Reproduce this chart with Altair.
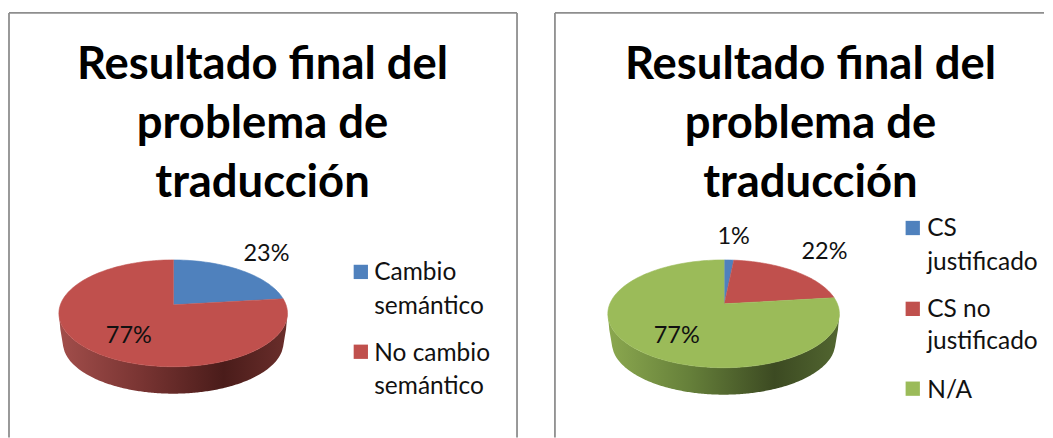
import math
import altair as alt
import pandas as pd

TITLE = ["Resultado final del", "problema de", "traducción"]

L_SHARES = [23, 77]
L_COLORS = ["#4F81BD", "#C0504D"]
L_PCT = ["23%", "77%"]
L_LEGEND = [["Cambio", "semántico"], ["No cambio", "semántico"]]

R_SHARES = [1.5, 21.5, 77]
R_COLORS = ["#4F81BD", "#C0504D", "#9BBB59"]
R_PCT = ["1%", "22%", "77%"]
R_LEGEND = [["CS", "justificado"], ["CS no", "justificado"], ["N/A"]]

FONT = "Lato"
H = 430
ORIGIN_Y = 8


def ellipse_point(theta, g):
    dx, dy = math.sin(theta), -g["k"] * math.cos(theta)
    ox, oy = g["ax"] - g["cx"], g["ay"] - g["cy"]
    a = (dx / g["rx"]) ** 2 + (dy / g["ry"]) ** 2
    b = 2 * (ox * dx / g["rx"] ** 2 + oy * dy / g["ry"] ** 2)
    c = (ox / g["rx"]) ** 2 + (oy / g["ry"]) ** 2 - 1
    t = (-b + math.sqrt(b * b - 4 * a * c)) / (2 * a)
    return g["ax"] + t * dx, g["ay"] + t * dy


def slices(shares, g):
    rows, start = [], 0.0
    for i, s in enumerate(shares):
        rows.append(dict(s=i, o=0, x=g["ax"], y=g["ay"]))
        n = max(4, int(s * 2))
        for j in range(n + 1):
            th = 2 * math.pi * (start + s * j / n) / 100
            x, y = ellipse_point(th, g)
            rows.append(dict(s=i, o=j + 1, x=x, y=y))
        start += s
    return pd.DataFrame(rows)


def wall(g):
    rows = []
    n = 160
    for i in range(n + 1):
        u = -1 + 2 * i / n
        x = u * g["rx"]
        y = g["cy"] + g["ry"] * math.sqrt(max(0, 1 - u * u))
        if abs(x) <= g["rx2"]:
            y2 = g["cb"] + g["ry2"] * math.sqrt(1 - (x / g["rx2"]) ** 2)
        else:
            f = (g["rx"] - abs(x)) / (g["rx"] - g["rx2"])
            y2 = y + f * (g["cb"] - y)
        rows.append(dict(x=g["cx"] + x, y=y, y2=y2))
    return pd.DataFrame(rows)


def panel(x0, width, frame, tx, g, shares, colors, wall_stops, pct, pct_pos,
          legend, sq_x, sq_y, text_x, text_y):
    xs = alt.Scale(domain=[x0, x0 + width], range=[0, width])
    ys = alt.Scale(domain=[ORIGIN_Y, ORIGIN_Y + H], range=[0, H])
    X = lambda f="x": alt.X(f"{f}:Q", scale=xs, axis=None)
    Y = lambda f="y": alt.Y(f"{f}:Q", scale=ys, axis=None)
    layers = []

    # frame, open at the bottom
    top_l, top_r, sides, ft, fb = frame
    edge = dict(color="#8E8E8E", strokeWidth=1.8)
    layers.append(alt.Chart(pd.DataFrame([dict(x=top_l, x2=top_r, y=ft)])).mark_rule(**edge)
                  .encode(x=X(), x2="x2:Q", y=Y()))
    layers.append(alt.Chart(pd.DataFrame([dict(x=s, y=ft, y2=fb) for s in sides]))
                  .mark_rule(**edge).encode(x=X(), y=Y(), y2="y2:Q"))

    # title
    title_df = pd.DataFrame([dict(t=t, x=tx, y=y) for t, y in zip(TITLE, [65, 123.5, 182.5])])
    layers.append(alt.Chart(title_df).mark_text(font=FONT, fontWeight="bold", fontSize=45.5,
                                                color="#000000", baseline="middle", align="center")
                  .encode(x=X(), y=Y(), text="t:N"))

    # side wall of the pie
    grad = alt.LinearGradient(gradient="linear", x1=0, x2=1, y1=0, y2=0,
                              stops=[alt.GradientStop(offset=o, color=c) for o, c in wall_stops])
    layers.append(alt.Chart(wall(g)).mark_area(fill=grad, orient="vertical")
                  .encode(x=X(), y=Y(), y2="y2:Q"))

    # top face
    pts = slices(shares, g)
    for i, c in enumerate(colors):
        layers.append(alt.Chart(pts[pts.s == i]).mark_line(fill=c, stroke=c, strokeWidth=0.6)
                      .encode(x=X(), y=Y(), order="o:Q"))

    # percentage labels
    pct_df = pd.DataFrame([dict(t=t, x=p[0], y=p[1]) for t, p in zip(pct, pct_pos)])
    layers.append(alt.Chart(pct_df).mark_text(font=FONT, fontSize=23.5, color="#111111",
                                              baseline="middle", align="center")
                  .encode(x=X(), y=Y(), text="t:N"))

    # legend
    sq = pd.DataFrame([dict(c=c, x=sq_x, y=y) for c, y in zip(colors, sq_y)])
    layers.append(alt.Chart(sq).mark_square(size=205, opacity=1, strokeWidth=0)
                  .encode(x=X(), y=Y(), color=alt.Color("c:N", scale=None)))
    lines = [t for group in legend for t in group]
    leg = pd.DataFrame([dict(t=t, x=text_x, y=y) for t, y in zip(lines, text_y)])
    layers.append(alt.Chart(leg).mark_text(font=FONT, fontSize=24.5, color="#111111",
                                           baseline="middle", align="left")
                  .encode(x=X(), y=Y(), text="t:N"))

    return alt.layer(*layers).properties(width=width, height=H)


G_L = dict(cx=172.5, cy=313.5, rx=114.5, ry=53.5, ax=173, ay=305, k=0.434,
           rx2=110.5, ry2=51, cb=343)
G_R = dict(cx=724, cy=314, rx=116, ry=54, ax=724.7, ay=304, k=0.434,
           rx2=112, ry2=52, cb=343)

left = panel(8, 528, (8, 517, [8, 517], 12.5, 438), 262, G_L, L_SHARES, L_COLORS,
             [(0, "#A24E4B"), (0.35, "#7A3533"), (0.72, "#4A1C1A"), (1, "#6A2E2B")],
             L_PCT, [(266, 254), (128, 336.5)], L_LEGEND,
             360.5, [272, 352], 374, [273, 307, 354, 387])
right = panel(536, 509, (555, 1045, [555], 12.5, 438), 811, G_R, R_SHARES, R_COLORS,
              [(0, "#8BA84F"), (0.35, "#66803A"), (0.72, "#3C4A22"), (1, "#526630")],
              R_PCT, [(734, 237.5), (825, 252), (677, 336.5)], R_LEGEND,
              913.5, [228, 309, 389], 928, [229, 263, 310, 342, 391])

chart = (alt.hconcat(left, right, spacing=0)
         .properties(padding=0, background="#FFFFFF")
         .configure_view(stroke=None)
         .configure_concat(spacing=0))
chart.save("out.html", embed_options={"renderer": "svg", "actions": False})
